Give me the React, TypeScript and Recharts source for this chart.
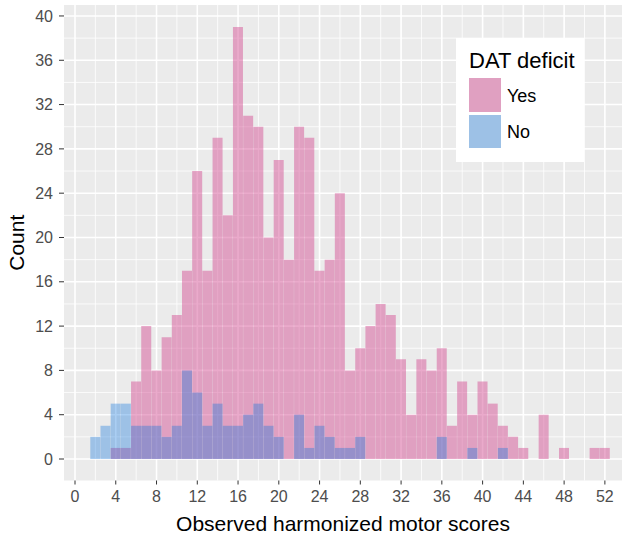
import React from 'react';
import { ComposedChart, Bar, XAxis, YAxis, CartesianGrid, Legend } from 'recharts';

// Histogram bins (score values, bin width 1, centred on integers)
const bins = [
  2, 3, 4, 5, 6, 7, 8, 9, 10, 11, 12, 13, 14, 15, 16, 17, 18, 19, 20, 21, 22, 23, 24, 25, 26, 27,
  28, 29, 30, 31, 32, 33, 34, 35, 36, 37, 38, 39, 40, 41, 42, 43, 44, 45, 46, 47, 48, 49, 50, 51, 52,
];
const yesCounts = [
  0, 0, 1, 1, 7, 12, 8, 11, 13, 17, 26, 17, 29, 22, 39, 31, 30, 20, 27, 18, 30, 29, 17, 18, 24, 8,
  10, 12, 14, 13, 9, 4, 9, 8, 10, 3, 7, 4, 7, 5, 3, 2, 1, 0, 4, 0, 1, 0, 0, 1, 1,
];
const noCounts = [
  2, 3, 5, 5, 3, 3, 3, 2, 3, 8, 6, 3, 5, 3, 3, 4, 5, 3, 2, 0, 4, 1, 3, 2, 1, 1,
  2, 0, 0, 0, 0, 0, 0, 0, 2, 0, 0, 1, 0, 0, 1, 0, 0, 0, 0, 0, 0, 0, 0, 0, 0,
];
const xTicks = [0, 4, 8, 12, 16, 20, 24, 28, 32, 36, 40, 44, 48, 52];
const xMinor = [2, 6, 10, 14, 18, 22, 26, 30, 34, 38, 42, 46, 50];
const yTicks = [0, 4, 8, 12, 16, 20, 24, 28, 32, 36, 40];
const yMinor = [2, 6, 10, 14, 18, 22, 26, 30, 34, 38];
const seriesNames = ['Yes', 'No'];
const legendTitle = 'DAT deficit';
const xTitle = 'Observed harmonized motor scores';
const yTitle = 'Count';

const data = bins.map((b, i) => ({
  score: b,
  yes: yesCounts[i] > 0 ? yesCounts[i] : null,
  no: noCounts[i] > 0 ? noCounts[i] : null,
}));

const FONT = '"Liberation Sans", Arial, Helvetica, sans-serif';
const X_DOMAIN: [number, number] = [-1.08, 53.68];
const Y_DOMAIN: [number, number] = [-1.94, 40.99];

const renderLegend = () => (
  <div style={{ position: 'relative', width: 128, height: 124, background: '#fff', fontFamily: FONT, color: '#000' }}>
    <div style={{ position: 'absolute', left: 13, top: 12.4, fontSize: 22, lineHeight: '22px', whiteSpace: 'nowrap' }}>
      {legendTitle}
    </div>
    <div style={{ position: 'absolute', left: 13, top: 40, width: 32, height: 34, background: 'rgb(224,160,193)' }} />
    <div style={{ position: 'absolute', left: 13, top: 77, width: 32, height: 33, background: 'rgb(157,193,230)' }} />
    <div style={{ position: 'absolute', left: 51, top: 48.8, fontSize: 18, lineHeight: '18px' }}>{seriesNames[0]}</div>
    <div style={{ position: 'absolute', left: 51, top: 84.8, fontSize: 18, lineHeight: '18px' }}>{seriesNames[1]}</div>
  </div>
);

export default function App() {
  return (
    <div style={{ position: 'absolute', left: 0, top: 0, fontFamily: FONT, background: '#fff' }}>
      <ComposedChart
        width={633}
        height={542}
        data={data}
        margin={{ top: 5, right: 11, left: 0, bottom: 0 }}
        barCategoryGap={0}
        barGap={0}
      >
        <CartesianGrid
          xAxisId="yes"
          fill="#EBEBEB"
          stroke="#FFFFFF"
          strokeWidth={0.8}
          verticalValues={xMinor}
          horizontalValues={yMinor}
        />
        <CartesianGrid
          xAxisId="yes"
          stroke="#FFFFFF"
          strokeWidth={1.6}
          verticalValues={xTicks}
          horizontalValues={yTicks}
        />
        <XAxis
          xAxisId="yes"
          type="number"
          dataKey="score"
          domain={X_DOMAIN}
          ticks={xTicks}
          interval={0}
          axisLine={false}
          tickSize={4}
          tickMargin={6}
          tickLine={{ stroke: '#333333' }}
          tick={{ fill: '#4D4D4D', fontSize: 16, fontFamily: FONT }}
          height={61.5}
          label={{ value: xTitle, position: 'insideBottom', offset: 11.5, fill: '#000', fontSize: 21, fontFamily: FONT }}
        />
        <XAxis xAxisId="no" type="number" dataKey="score" domain={X_DOMAIN} orientation="top" height={0} hide />
        <YAxis
          type="number"
          domain={Y_DOMAIN}
          ticks={yTicks}
          interval={0}
          axisLine={false}
          tickSize={5}
          tickMargin={6}
          width={64}
          tickLine={{ stroke: '#333333' }}
          tick={{ fill: '#4D4D4D', fontSize: 16, fontFamily: FONT }}
          label={{
            value: yTitle,
            angle: -90,
            position: 'insideLeft',
            offset: 17,
            fill: '#000',
            fontSize: 21,
            fontFamily: FONT,
            style: { textAnchor: 'middle' },
          }}
        />
        <Bar
          xAxisId="yes"
          dataKey="yes"
          name={seriesNames[0]}
          fill="rgb(213,85,151)"
          fillOpacity={0.5}
          isAnimationActive={false}
        />
        <Bar
          xAxisId="no"
          dataKey="no"
          name={seriesNames[1]}
          fill="rgb(12,115,221)"
          fillOpacity={0.35}
          isAnimationActive={false}
        />
        <Legend
          layout="vertical"
          align="center"
          verticalAlign="middle"
          content={renderLegend}
          wrapperStyle={{ position: 'absolute', left: 456, top: 38, width: 128, height: 124 }}
        />
      </ComposedChart>
    </div>
  );
}
